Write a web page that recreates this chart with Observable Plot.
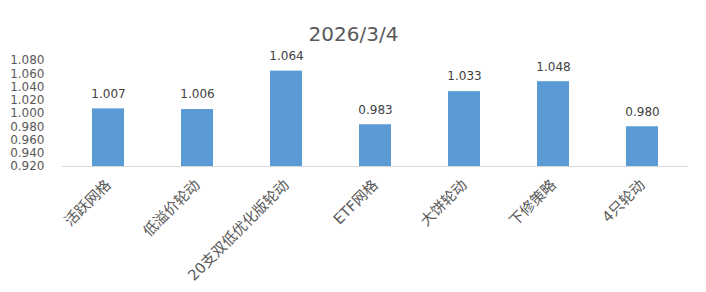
<!DOCTYPE html>
<html>
<head>
<meta charset="utf-8">
<script src="https://cdn.jsdelivr.net/npm/d3@7"></script>
<script src="https://cdn.jsdelivr.net/npm/@observablehq/plot@0.6"></script>
<style>
  html, body { margin: 0; padding: 0; background: #fff; }
</style>
</head>
<body>
<div id="chart"></div>
<script>
const title = "2026/3/4";
const categories = ["活跃网格", "低溢价轮动", "20支双低优化版轮动", "ETF网格", "大饼轮动", "下修策略", "4只轮动"];
const values = [1.007, 1.006, 1.064, 0.983, 1.033, 1.048, 0.980];
const yTicks = [0.92, 0.94, 0.96, 0.98, 1.00, 1.02, 1.04, 1.06, 1.08];

const data = categories.map((c, i) => ({category: c, value: values[i]}));
const fmt = d3.format(".3f");
const font = "'DejaVu Sans', 'Noto Sans CJK SC', sans-serif";

const chart = Plot.plot({
  width: 706,
  height: 292,
  marginLeft: 62,
  marginRight: 18,
  marginTop: 60,
  marginBottom: 126,
  style: {fontFamily: font, color: "#595959", background: "#fff"},
  x: {domain: categories, paddingInner: 0.64, paddingOuter: 0.32, label: null},
  y: {domain: [0.92, 1.08], label: null},
  marks: [
    Plot.barY(data, {x: "category", y1: 0.92, y2: "value", fill: "#5b9bd5"}),
    Plot.ruleY([0.92], {stroke: "#d9d9d9", strokeWidth: 1}),
    Plot.text(data, {x: "category", y: "value", text: d => fmt(d.value), dy: -15, fill: "#404040", fontSize: 12}),
    Plot.axisY({ticks: yTicks, tickFormat: fmt, tickSize: 0, tickPadding: 18, fontSize: 12, fill: "#595959", label: null}),
    Plot.axisX({tickRotate: -45, tickSize: 0, tickPadding: 16, fontSize: 14.6, fill: "#595959", label: null}),
    Plot.text([title], {frameAnchor: "top", dx: -22, dy: -34, fontSize: 20, fill: "#595959"})
  ]
});
document.getElementById("chart").appendChild(chart);
</script>
</body>
</html>
